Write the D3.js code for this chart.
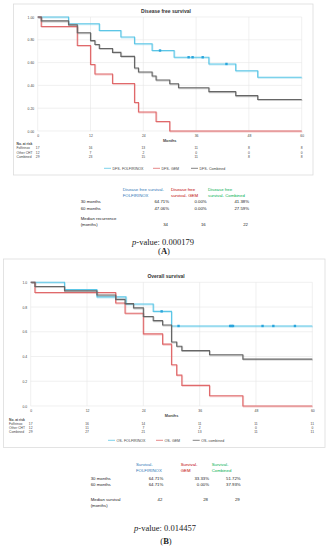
<!DOCTYPE html>
<html>
<head>
<meta charset="utf-8">
<script src="https://cdn.jsdelivr.net/npm/d3@7"></script>
<style>
  body { margin: 0; background: #fff; }
  svg { display: block; font-family: "Liberation Sans", Arial, sans-serif; }
</style>
</head>
<body>
<div id="chart"></div>
<script>
// ---- data: disease free survival (panel A) ----
var monthTicks = [0, 12, 24, 36, 48, 60];
var dfsFolfTime = [0, 7, 14, 18.9, 22, 26, 31, 38.9, 45, 50, 60];
var dfsFolfSurv = [1, 0.941, 0.882, 0.824, 0.765, 0.706, 0.647, 0.588, 0.529, 0.471, 0.471];
var dfsFolfCensor = [[27.8, 0.706], [34.3, 0.647], [35.2, 0.647], [37.5, 0.647], [42.9, 0.588]];
var dfsGemTime = [0, 0.8, 9, 12, 13, 17, 22, 22.9, 26.9, 30, 60];
var dfsGemSurv = [1, 0.917, 0.75, 0.583, 0.5, 0.417, 0.25, 0.167, 0.083, 0, 0];
var dfsCombTime = [0, 0.8, 7, 9, 12, 13, 14, 17, 18.9, 22, 22.9, 26, 26.9, 30, 32, 38.9, 45, 50, 60];
var dfsCombSurv = [1, 0.966, 0.931, 0.862, 0.793, 0.759, 0.724, 0.690, 0.655, 0.552, 0.517, 0.483, 0.448, 0.414, 0.379, 0.345, 0.310, 0.276, 0.276];
var dfsRiskLabels = ["Folfirinox", "Other CHT", "Combined"];
var dfsRisk = [[17, 16, 13, 11, 8, 8], [12, 7, 2, 0, 0, 0], [29, 23, 15, 11, 8, 8]];
var dfsLegend = ["DFS- FOLFIRINOX", "DFS- GEM", "DFS- Combined"];
var dfsHead = [["Disease free survival-", "FOLFIRINOX"], ["Disease free", "survival- GEM"], ["Disease free", "survival- Combined"]];
var dfsRowLabels = ["30 months", "60 months"];
var dfsValues = [["64.71%", "0.00%", "41.38%"], ["47.06%", "0.00%", "27.59%"]];
var dfsMedian = ["34", "16", "22"];

// ---- data: overall survival (panel B) ----
var osFolfTime = [0, 7.2, 14.1, 20.3, 26.1, 30, 60];
var osFolfSurv = [1, 0.941, 0.882, 0.824, 0.765, 0.647, 0.647];
var osFolfCensor = [[27.9, 0.765], [31.5, 0.647], [42.5, 0.647], [42.8, 0.647], [43.1, 0.647], [49.4, 0.647], [51.7, 0.647], [56.3, 0.647]];
var osGemTime = [0, 0.9, 18.1, 20.1, 24, 28.1, 30, 31.1, 32.2, 38.1, 45.2, 60];
var osGemSurv = [1, 0.917, 0.833, 0.75, 0.583, 0.5, 0.333, 0.25, 0.167, 0.083, 0, 0];
var osCombTime = [0, 0.9, 7.2, 14.1, 18.1, 20.1, 21.9, 24, 26.1, 28.1, 30, 31.1, 32.2, 38.1, 45.2, 60];
var osCombSurv = [1, 0.966, 0.931, 0.897, 0.862, 0.828, 0.793, 0.724, 0.690, 0.655, 0.517, 0.483, 0.448, 0.414, 0.379, 0.379];
var osRiskLabels = ["Folfirinox", "Other CHT", "Combined"];
var osRisk = [[17, 16, 14, 11, 11, 11], [12, 11, 7, 2, 0, 0], [29, 27, 21, 13, 11, 11]];
var osLegend = ["OS- FOLFIRINOX", "OS- GEM", "OS- combined"];
var osHead = [["Survival-", "FOLFIRINOX"], ["Survival-", "GEM"], ["Survival-", "Combined"]];
var osRowLabels = ["30 months", "60 months"];
var osValues = [["64.71%", "33.33%", "51.72%"], ["64.71%", "0.00%", "37.93%"]];
var osMedian = ["42", "28", "29"];

var colors = ["#5cc6e6", "#e0696b", "#666666"];
var headColors = ["#2e75b6", "#c00000", "#00b050"];

var svg = d3.select("#chart").append("svg")
    .attr("width", 328)
    .attr("height", 550);

function zip(t, s) { return t.map(function (d, i) { return [d, s[i]]; }); }

function drawPanel(p) {
    var g = svg.append("g");

    // frame
    g.append("rect")
        .attr("x", p.frame[0]).attr("y", p.frame[1])
        .attr("width", p.frame[2]).attr("height", p.frame[3])
        .attr("fill", "#fff").attr("stroke", "#dcdcdc").attr("stroke-width", 0.8);

    g.append("text")
        .attr("x", p.titleX).attr("y", p.titleY)
        .attr("text-anchor", "middle")
        .style("font-size", "5px").style("font-weight", "bold").style("fill", "#333")
        .text(p.title);

    var x = d3.scaleLinear().domain([0, 60]).range(p.xr);
    var y = d3.scaleLinear().domain([0, 1]).range(p.yr);

    // grid
    g.append("g").selectAll("line").data(monthTicks).join("line")
        .attr("x1", d => x(d)).attr("x2", d => x(d))
        .attr("y1", p.yr[0]).attr("y2", p.yr[1])
        .attr("stroke", "#e6e6e6").attr("stroke-width", 0.6);
    g.append("g").selectAll("line").data(p.yTicks).join("line")
        .attr("x1", p.xr[0]).attr("x2", p.xr[1])
        .attr("y1", d => y(d)).attr("y2", d => y(d))
        .attr("stroke", "#e6e6e6").attr("stroke-width", 0.6);

    // axes
    var ax = g.append("g")
        .attr("transform", "translate(0," + (p.yr[0] + 1.5) + ")")
        .call(d3.axisBottom(x).tickValues(monthTicks).tickSize(0).tickPadding(2));
    ax.select(".domain").remove();
    ax.selectAll("text").style("font-size", "3.4px").style("fill", "#444").attr("font-family", null);

    var ay = g.append("g")
        .attr("transform", "translate(" + (p.xr[0] - 2.5) + ",0)")
        .call(d3.axisLeft(y).tickValues(p.yTicks).tickFormat(d3.format(p.yFmt)).tickSize(0).tickPadding(1));
    ay.select(".domain").remove();
    ay.selectAll("text").style("font-size", "3.4px").style("fill", "#444").attr("font-family", null);

    g.append("text")
        .attr("x", (p.xr[0] + p.xr[1]) / 2).attr("y", p.yr[0] + 10.5)
        .attr("text-anchor", "middle")
        .style("font-size", "3.8px").style("font-weight", "bold").style("fill", "#444")
        .text("Months");

    // curves
    var line = d3.line().x(d => x(d[0])).y(d => y(d[1])).curve(d3.curveStepAfter);
    p.curves.forEach(function (c, i) {
        var pts = zip(c[0], c[1]);
        g.append("path").datum(pts)
            .attr("d", line)
            .attr("transform", "translate(0.7,0.9)")
            .attr("fill", "none").attr("stroke", colors[i])
            .attr("stroke-width", 1.2).attr("opacity", 0.35);
        g.append("path").datum(pts)
            .attr("d", line)
            .attr("fill", "none").attr("stroke", colors[i])
            .attr("stroke-width", 1.1);
    });

    // censor marks
    g.append("g").selectAll("rect").data(p.censor).join("rect")
        .attr("x", d => x(d[0]) - 1.2).attr("y", d => y(d[1]) - 1.2)
        .attr("width", 2.4).attr("height", 2.4)
        .attr("fill", "#2aa5dc");

    // number at risk
    var rt = g.append("g").style("font-size", "3.3px").style("fill", "#444");
    rt.append("text").attr("x", p.riskX).attr("y", p.riskY)
        .style("font-weight", "bold").text("No. at risk");
    p.risk.forEach(function (row, r) {
        var yy = p.riskY + 4.3 * (r + 1);
        rt.append("text").attr("x", p.riskX).attr("y", yy).text(p.riskLabels[r]);
        rt.selectAll(null).data(row).join("text")
            .attr("x", (d, k) => x(monthTicks[k])).attr("y", yy)
            .attr("text-anchor", "middle").text(d => d);
    });

    // legend
    var lg = g.append("g").style("font-size", "3.6px").style("fill", "#444");
    p.legend.forEach(function (name, i) {
        var lx = p.legendX[i];
        lg.append("line").attr("x1", lx).attr("x2", lx + 7)
            .attr("y1", p.legendY - 1.2).attr("y2", p.legendY - 1.2)
            .attr("stroke", colors[i]).attr("stroke-width", 0.8);
        lg.append("text").attr("x", lx + 8.5).attr("y", p.legendY).text(name);
    });

    // summary table below
    var tb = g.append("g").style("font-size", "4.3px").style("fill", "#222");
    p.head.forEach(function (h, i) {
        h.forEach(function (s, k) {
            tb.append("text").attr("x", p.headX[i]).attr("y", p.headY + 6 * k)
                .style("fill", headColors[i]).text(s);
        });
    });
    p.rowLabels.forEach(function (lab, r) {
        var yy = p.rowY + 6.8 * r;
        tb.append("text").attr("x", p.labelX).attr("y", yy).text(lab);
        p.values[r].forEach(function (v, i) {
            tb.append("text").attr("x", p.valX[i]).attr("y", yy)
                .attr("text-anchor", "end").text(v);
        });
    });
    tb.append("text").attr("x", p.labelX).attr("y", p.medY).text(p.medLabel);
    tb.append("text").attr("x", p.labelX).attr("y", p.medY + 6.5).text("(months)");
    p.median.forEach(function (v, i) {
        tb.append("text").attr("x", p.valX[i] - 1).attr("y", p.medY + p.medOff)
            .attr("text-anchor", "end").text(v);
    });

    // p-value and panel letter
    var pv = g.append("text").attr("x", p.pX).attr("y", p.pY)
        .attr("text-anchor", "middle")
        .style("font-family", "'Liberation Serif', 'DejaVu Serif', serif")
        .style("font-size", "8.5px").style("fill", "#222");
    pv.append("tspan").style("font-style", "italic").text("p");
    pv.append("tspan").text("-value: " + p.pValue);
    var lt = g.append("text").attr("x", p.pX + 1).attr("y", p.letterY)
        .attr("text-anchor", "middle")
        .style("font-family", "'Liberation Serif', 'DejaVu Serif', serif")
        .style("font-size", "8.5px").style("fill", "#222");
    lt.append("tspan").text("(");
    lt.append("tspan").style("font-weight", "bold").text(p.letter);
    lt.append("tspan").text(")");
}

drawPanel({
    frame: [13.5, 4, 299.5, 171], title: "Disease free survival", titleX: 166, titleY: 12.5,
    xr: [37.7, 301.7], yr: [131, 17], yTicks: [0, 0.2, 0.4, 0.6, 0.8, 1], yFmt: ".2f",
    curves: [[dfsFolfTime, dfsFolfSurv], [dfsGemTime, dfsGemSurv], [dfsCombTime, dfsCombSurv]],
    censor: dfsFolfCensor,
    riskX: 16.5, riskY: 145, riskLabels: dfsRiskLabels, risk: dfsRisk,
    legend: dfsLegend, legendX: [104, 153, 191], legendY: 169.5,
    head: dfsHead, headX: [122.7, 171, 208], headY: 190.5,
    rowLabels: dfsRowLabels, values: dfsValues, labelX: 80.7, rowY: 203, valX: [169, 206.7, 249],
    medLabel: "Median recurrence", medY: 219.5, medOff: 6.5, median: dfsMedian,
    pX: 163, pY: 244.5, pValue: "0.000179", letterY: 254, letter: "A"
});

drawPanel({
    frame: [3.5, 259, 321.5, 188.5], title: "Overall survival", titleX: 166, titleY: 278,
    xr: [30.7, 312.3], yr: [406, 282.3], yTicks: [0, 0.2, 0.4, 0.6, 0.8, 1], yFmt: ".1f",
    curves: [[osFolfTime, osFolfSurv], [osGemTime, osGemSurv], [osCombTime, osCombSurv]],
    censor: osFolfCensor,
    riskX: 9, riskY: 420.5, riskLabels: osRiskLabels, risk: osRisk,
    legend: osLegend, legendX: [108, 156, 192.7], legendY: 441.5,
    head: osHead, headX: [136, 180.7, 211.7], headY: 465.5,
    rowLabels: osRowLabels, values: osValues, labelX: 90.7, rowY: 479.5, valX: [163.3, 209, 240.7],
    medLabel: "Median survival", medY: 500.5, medOff: 0, median: osMedian,
    pX: 165, pY: 530.5, pValue: "0.014457", letterY: 543.5, letter: "B"
});
</script>
</body>
</html>
